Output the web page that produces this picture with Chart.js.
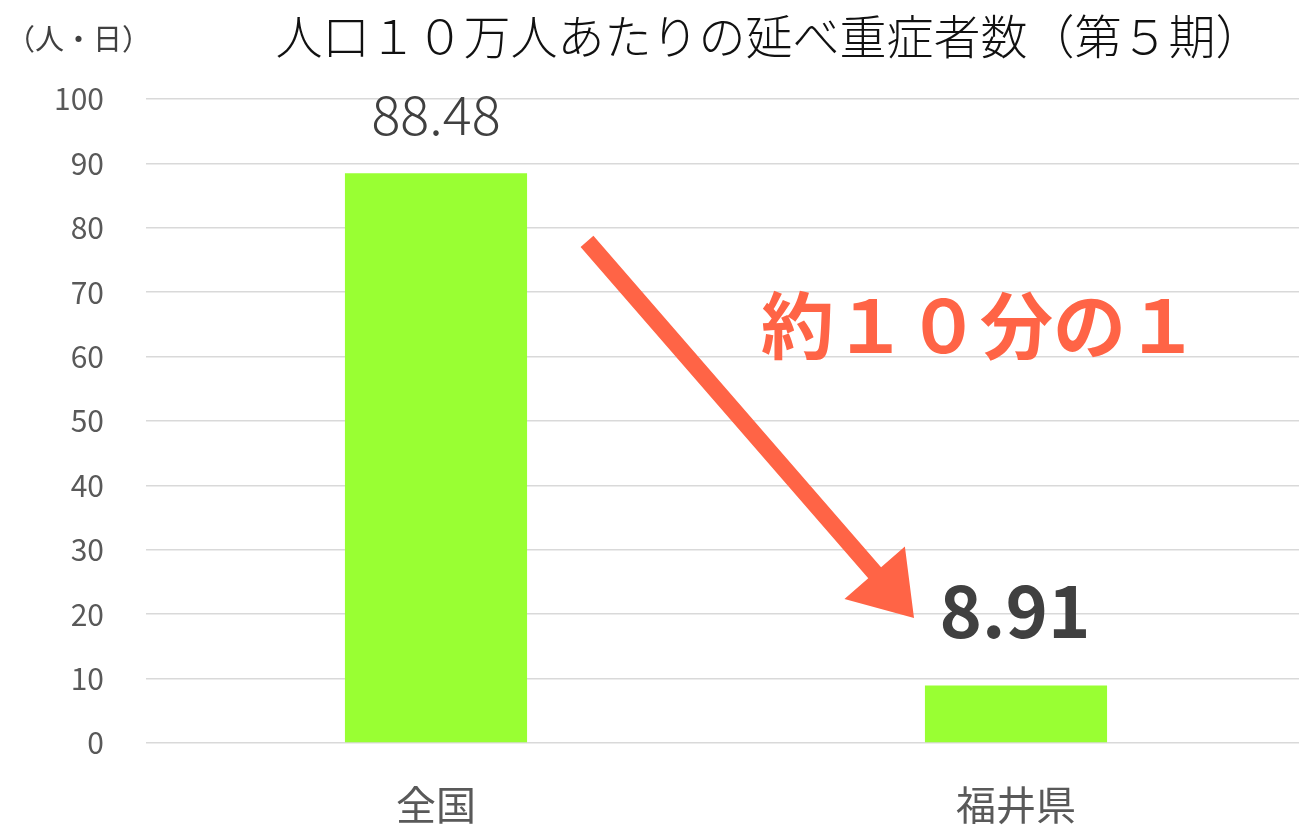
<!DOCTYPE html>
<html>
<head>
<meta charset="utf-8">
<script src="https://cdn.jsdelivr.net/npm/chart.js@4/dist/chart.umd.min.js"></script>
<style>
  html, body { margin: 0; padding: 0; background: #fff; overflow: hidden; }
  #wrap { width: 1306px; height: 827px; position: relative; }
</style>
</head>
<body>
<div id="wrap"><canvas id="c" width="1306" height="827"></canvas></div>
<script>
const categories = ['全国', '福井県'];
const values = [88.48, 8.91];
const valueLabels = ['88.48', '8.91'];
const yTicks = [0, 10, 20, 30, 40, 50, 60, 70, 80, 90, 100];
const titleText = '人口１０万人あたりの延べ重症者数（第５期）';
const unitText = '（人・日）';
const noteText = '約１０分の１';

const FONT = "'Noto Sans CJK JP', 'Noto Sans', sans-serif";

const overlay = {
  id: 'overlay',
  afterDatasetsDraw(chart) {
    const ctx = chart.ctx;
    const meta = chart.getDatasetMeta(0);
    const xs = chart.scales.x, ys = chart.scales.y;
    ctx.save();
    // title
    ctx.fillStyle = '#111';
    ctx.font = '300 47px ' + FONT;
    ctx.textAlign = 'center';
    ctx.textBaseline = 'middle';
    ctx.fillText(titleText, 769, 36);
    // unit
    ctx.fillStyle = '#404040';
    ctx.font = '29px ' + FONT;
    ctx.textAlign = 'left';
    ctx.fillText(unitText, 6, 39);
    // data labels
    const b0 = meta.data[0], b1 = meta.data[1];
    ctx.textAlign = 'center';
    ctx.fillStyle = '#404040';
    ctx.font = '300 54px ' + FONT;
    ctx.fillText(valueLabels[0], b0.x, b0.y - 59);
    ctx.font = 'bold 72px ' + FONT;
    ctx.fillText(valueLabels[1], b1.x - 1, b1.y - 75);
    // arrow
    const x0 = xs.getPixelForValue(0) + 151, y0 = ys.getPixelForValue(77.9);
    const x1 = xs.getPixelForValue(1) - 102, y1 = ys.getPixelForValue(19.4);
    const dx = x1 - x0, dy = y1 - y0, L = Math.hypot(dx, dy);
    const ux = dx / L, uy = dy / L, px = -uy, py = ux;
    const headLen = 60, headHalf = 40, shaftHalf = 8.5;
    const bx = x1 - ux * headLen, by = y1 - uy * headLen;
    ctx.fillStyle = '#FF6446';
    ctx.beginPath();
    ctx.moveTo(x0 + px * shaftHalf, y0 + py * shaftHalf);
    ctx.lineTo(bx + px * shaftHalf, by + py * shaftHalf);
    ctx.lineTo(bx + px * headHalf, by + py * headHalf);
    ctx.lineTo(x1, y1);
    ctx.lineTo(bx - px * headHalf, by - py * headHalf);
    ctx.lineTo(bx - px * shaftHalf, by - py * shaftHalf);
    ctx.lineTo(x0 - px * shaftHalf, y0 - py * shaftHalf);
    ctx.closePath();
    ctx.fill();
    // note
    ctx.fillStyle = '#FF6446';
    ctx.font = 'bold 73px ' + FONT;
    ctx.textAlign = 'center';
    ctx.fillText(noteText, 980, 325);
    ctx.restore();
  }
};

new Chart(document.getElementById('c'), {
  type: 'bar',
  data: {
    labels: categories,
    datasets: [{
      data: values,
      backgroundColor: '#99FF33',
      borderWidth: 0,
      barPercentage: 1,
      categoryPercentage: 0.314
    }]
  },
  options: {
    responsive: false,
    animation: false,
    layout: { padding: { top: 99, left: 0, right: 0, bottom: 0 } },
    plugins: { legend: { display: false }, tooltip: { enabled: false }, title: { display: false } },
    scales: {
      x: {
        grid: { display: false, drawTicks: false },
        border: { display: false },
        ticks: { color: '#595959', font: { family: FONT, size: 40 }, padding: 38 },
        afterFit(s) { s.height = 84; }
      },
      y: {
        min: 0, max: 100,
        afterBuildTicks(s) { s.ticks = yTicks.map(v => ({ value: v })); },
        grid: { color: '#D9D9D9', lineWidth: 1.5, drawTicks: false },
        border: { display: false },
        ticks: { color: '#595959', font: { family: FONT, size: 30 }, padding: 42 },
        afterFit(s) { s.width = 146; }
      }
    }
  },
  plugins: [overlay]
});
</script>
</body>
</html>
